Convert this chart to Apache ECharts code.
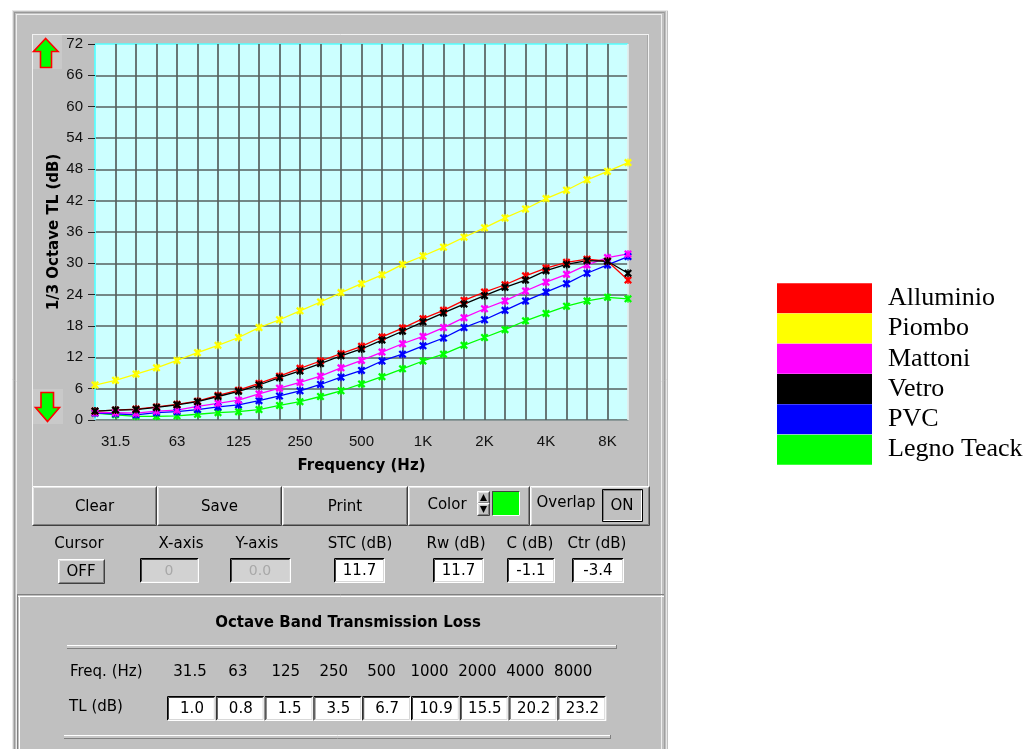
<!DOCTYPE html>
<html>
<head>
<meta charset="utf-8">
<script src="https://cdn.jsdelivr.net/npm/echarts@6/dist/echarts.min.js"></script>
<style>
  html, body { margin: 0; padding: 0; background: #ffffff; }
  #chart { width: 1031px; height: 749px; }
</style>
</head>
<body>
<div id="chart"></div>
<script>
// 1/3 octave band centre frequencies (x categories)
const bands = ['25','31.5','40','50','63','80','100','125','160','200','250','315','400','500',
               '630','800','1K','1.25K','1.6K','2K','2.5K','3.15K','4K','5K','6.3K','8K','10K'];
// bands that carry a tick label
const bandTickLabels = ['31.5','63','125','250','500','1K','2K','4K','8K'];

// transmission loss per 1/3 octave band (dB)
const alluminio = [1.7, 1.9, 2.1, 2.5, 3.0, 3.6, 4.7, 5.7, 7.0, 8.4, 9.9, 11.3, 12.7, 14.1,
                   15.9, 17.6, 19.4, 21.0, 22.9, 24.5, 25.9, 27.6, 29.1, 30.2, 30.8, 30.4, 26.8];
const piombo    = [6.7, 7.6, 8.8, 10.0, 11.4, 12.9, 14.3, 15.8, 17.7, 19.2, 20.9, 22.6, 24.4, 26.1,
                   27.8, 29.8, 31.4, 33.1, 35.0, 36.8, 38.7, 40.4, 42.4, 44.0, 46.0, 47.6, 49.3];
const mattoni   = [1.4, 1.4, 1.3, 1.7, 1.9, 2.6, 3.2, 3.8, 5.0, 6.1, 7.2, 8.4, 10.0, 11.4,
                   13.0, 14.6, 16.0, 17.7, 19.6, 21.3, 22.8, 24.7, 26.4, 27.9, 29.7, 31.1, 31.8];
const vetro     = [1.7, 1.9, 2.0, 2.4, 2.9, 3.5, 4.5, 5.5, 6.7, 8.1, 9.4, 10.8, 12.3, 13.6,
                   15.3, 17.0, 18.8, 20.5, 22.2, 23.8, 25.4, 26.8, 28.6, 29.8, 30.5, 30.4, 28.1];
const pvc       = [1.3, 1.2, 1.0, 1.4, 1.6, 2.0, 2.5, 2.9, 3.7, 4.6, 5.6, 6.8, 8.2, 9.5,
                   11.3, 12.6, 14.2, 15.7, 17.7, 19.2, 21.0, 22.8, 24.5, 26.1, 28.1, 29.7, 31.3];
const legnoTeack= [1.3, 1.0, 0.7, 0.7, 0.8, 1.1, 1.4, 1.6, 2.0, 2.8, 3.5, 4.5, 5.6, 6.9,
                   8.3, 9.8, 11.3, 12.6, 14.3, 15.8, 17.3, 19.0, 20.4, 21.8, 22.8, 23.5, 23.2];

// legend order
const materialNames = ['Alluminio', 'Piombo', 'Mattoni', 'Vetro', 'PVC', 'Legno Teack'];

// octave band summary of the selected curve
const octaveFreqs = ['31.5','63','125','250','500','1000','2000','4000','8000'];
const octaveTL    = ['1.0','0.8','1.5','3.5','6.7','10.9','15.5','20.2','23.2'];

// single number ratings
const ratingLabels = ['STC (dB)', 'Rw (dB)', 'C (dB)', 'Ctr (dB)'];
const ratingValues = ['11.7', '11.7', '-1.1', '-3.4'];

// asterisk marker
const starMark = 'path://M0,2L2,0L5,3L8,0L10,2L7,5L10,8L8,10L5,7L2,10L0,8L3,5Z' +
                 'M4.2,0L5.8,0L5.8,10L4.2,10Z';

function curve(name, data, color) {
  return {
    name: name, type: 'line', data: data,
    symbol: starMark, symbolSize: 8,
    itemStyle: { color: color },
    lineStyle: { color: color, width: 1.3 },
    emphasis: { disabled: true }
  };
}

// ---------- panel widgets (window chrome) ----------
const UI = 'DejaVu Sans';
const G = [];
function rect(x, y, w, h, fill, z) {
  G.push({ type: 'rect', z: z == null ? 0 : z, silent: true,
           shape: { x: x, y: y, width: w, height: h }, style: { fill: fill } });
}
function line(x1, y1, x2, y2, c, w, z) {
  G.push({ type: 'line', z: z == null ? 2 : z, silent: true,
           shape: { x1: x1, y1: y1, x2: x2, y2: y2 }, style: { stroke: c, lineWidth: w || 1 } });
}
function text(t, x, y, opt) {
  G.push({ type: 'text', z: 5, silent: true, x: x, y: y,
           style: Object.assign({ text: t, fill: '#000', fontFamily: UI, fontSize: 14,
                                  align: 'center', verticalAlign: 'middle' }, opt || {}) });
}
function bevel(x, y, w, h, tl, br) {
  line(x + .5, y + .5, x + w - .5, y + .5, tl);
  line(x + .5, y + .5, x + .5, y + h - .5, tl);
  line(x + .5, y + h - .5, x + w - .5, y + h - .5, br);
  line(x + w - .5, y + .5, x + w - .5, y + h - .5, br);
}
function raised(x, y, w, h) {
  rect(x, y, w, h, '#c0c0c0', 1);
  bevel(x, y, w, h, '#ffffff', '#404040');
  bevel(x + 1, y + 1, w - 2, h - 2, '#e4e4e4', '#808080');
}
function field(x, y, w, h, fill) {
  rect(x, y, w, h, fill, 1);
  bevel(x, y, w, h, '#000000', '#ffffff');
  bevel(x + 1, y + 1, w - 2, h - 2, '#404040', '#d8d8d8');
}
function groove(x, y, w) {
  rect(x, y, w, 4, '#c8c8c8', 1);
  line(x, y + .5, x + w, y + .5, '#ffffff');
  line(x, y + 3.5, x + w, y + 3.5, '#808080');
  line(x + w - .5, y, x + w - .5, y + 4, '#808080');
}

// window background
rect(12, 10, 656, 739, '#c0c0c0', -100);
line(12, 10.5, 668, 10.5, '#e8e8e8');
line(12.5, 10, 12.5, 749, '#e8e8e8');
line(14.5, 12, 14.5, 749, '#989898');
line(14, 12.5, 664, 12.5, '#989898');
line(16.5, 14, 16.5, 749, '#eeeeee');
line(16, 14.5, 662, 14.5, '#eeeeee');
line(661.5, 14, 661.5, 749, '#eeeeee');
line(664.5, 12, 664.5, 749, '#a0a0a0');
line(666.5, 10, 666.5, 749, '#e8e8e8');
// chart sub-panel outline
line(32, 34.5, 649, 34.5, '#f2f2f2');
line(32.5, 34, 32.5, 486, '#f2f2f2');
line(648.5, 34, 648.5, 486, '#f2f2f2');
line(647.5, 35, 647.5, 486, '#a8a8a8');

// scale arrows
rect(32, 35, 30, 34, '#c9c9c9', 1);
G.push({ type: 'polygon', z: 3, silent: true,
  shape: { points: [[45.7, 38.5], [58, 51.5], [51.5, 51.5], [51.5, 67.5], [40.5, 67.5], [40.5, 51.5], [33.5, 51.5]] },
  style: { fill: '#00ff00', stroke: '#ff0000', lineWidth: 1.6 } });
rect(33, 389, 30, 35, '#c9c9c9', 1);
G.push({ type: 'polygon', z: 3, silent: true,
  shape: { points: [[41, 392.5], [53.5, 392.5], [53.5, 407.5], [59.5, 407.5], [47.5, 421.5], [35.5, 407.5], [41, 407.5]] },
  style: { fill: '#00ff00', stroke: '#ff0000', lineWidth: 1.6 } });

// command buttons
const buttons = [['Clear', 32, 157], ['Save', 157, 282], ['Print', 282, 408], ['', 408, 530], ['', 530, 650]];
buttons.forEach(function (b) { raised(b[1], 486, b[2] - b[1], 40); if (b[0]) text(b[0], (b[1] + b[2]) / 2, 507, { fontSize: 15 }); });
text('Color', 447, 505, { fontSize: 15 });
raised(477, 491, 13, 13);
raised(477, 503, 13, 13);
G.push({ type: 'polygon', z: 4, silent: true, shape: { points: [[480, 501], [487, 501], [483.5, 494]] }, style: { fill: '#000' } });
G.push({ type: 'polygon', z: 4, silent: true, shape: { points: [[480, 506], [487, 506], [483.5, 513]] }, style: { fill: '#000' } });
rect(492, 491, 28, 25, '#00ff00', 1);
bevel(492, 491, 28, 25, '#404040', '#ffffff');
text('Overlap', 566, 503, { fontSize: 15 });
rect(602, 489, 41, 33, '#c0c0c0', 1);
bevel(602, 489, 41, 33, '#000000', '#000000');
bevel(603, 490, 39, 31, '#808080', '#ffffff');
text('ON', 622, 506, { fontSize: 15 });

// cursor / readout row
text('Cursor', 79, 544, { fontSize: 15 });
raised(58, 559, 47, 25);
text('OFF', 81, 572, { fontSize: 15 });
text('X-axis', 181, 544, { fontSize: 15 });
field(140, 558, 59, 25, '#d2d2d2');
text('0', 169, 571, { fontSize: 14, fill: '#a8a8a8' });
text('Y-axis', 257, 544, { fontSize: 15 });
field(230, 558, 61, 25, '#d2d2d2');
text('0.0', 260, 571, { fontSize: 14, fill: '#a8a8a8' });
const ratingLabelX = [360, 456, 530, 597];
const ratingBox = [[334, 51], [433, 51], [507, 48], [572, 52]];
ratingLabels.forEach(function (t, i) {
  text(t, ratingLabelX[i], 544, { fontSize: 15 });
  field(ratingBox[i][0], 558, ratingBox[i][1], 25, '#ffffff');
  text(ratingValues[i], ratingBox[i][0] + ratingBox[i][1] / 2, 571, { fontSize: 15 });
});

// octave band section
line(17, 594.5, 664, 594.5, '#808080');
line(17, 596.5, 664, 596.5, '#ffffff');
line(17.5, 595, 17.5, 749, '#808080');
line(19.5, 597, 19.5, 749, '#ffffff');
text('Octave Band Transmission Loss', 348, 623, { fontSize: 15, fontWeight: 'bold' });
groove(67, 645, 550);
text('Freq. (Hz)', 70, 672, { fontSize: 15, align: 'left' });
text('TL (dB)', 96, 707, { fontSize: 15 });
octaveFreqs.forEach(function (f, i) {
  text(f, 190 + i * 47.9, 672, { fontSize: 15 });
  const bx = 167 + i * 48.8;
  field(bx, 696, 48.8, 25, '#ffffff');
  text(octaveTL[i], bx + 25, 709, { fontSize: 15 });
});
groove(64, 735, 547);

// grid line colours: left and top borders are cyan
const xSplitColors = bands.map(function (b, i) { return i === 0 ? '#55ffff' : (i === bands.length - 1 ? '#e2eeee' : '#56605f'); });
const ySplitColors = [];
for (let v = 0; v <= 72; v += 6) ySplitColors.push(v === 72 ? '#55ffff' : '#56605f');

const chart = echarts.init(document.getElementById('chart'), null, { renderer: 'canvas' });
chart.setOption({
  animation: false,
  backgroundColor: '#ffffff',
  graphic: { elements: G },
  grid: { left: 95, top: 44, width: 533, height: 376, show: true,
          backgroundColor: '#ccffff', borderWidth: 0 },
  xAxis: {
    type: 'category', data: bands, boundaryGap: false,
    name: 'Frequency (Hz)', nameLocation: 'middle', nameGap: 39,
    nameTextStyle: { fontFamily: UI, fontWeight: 'bold', fontSize: 15, color: '#000' },
    axisLine: { show: true, lineStyle: { color: '#8c9898', width: 1 } },
    axisTick: { show: false },
    axisLabel: { interval: function (i, v) { return bandTickLabels.indexOf(v) >= 0; },
                 fontFamily: 'Liberation Sans', fontSize: 15, color: '#111', margin: 14 },
    splitLine: { show: true, interval: 0, lineStyle: { color: xSplitColors, width: 1.7 } }
  },
  yAxis: {
    type: 'value', min: 0, max: 72, interval: 6,
    name: '1/3 Octave TL (dB)', nameLocation: 'middle', nameGap: 33,
    nameMoveOverlap: false,
    nameTextStyle: { fontFamily: UI, fontWeight: 'bold', fontSize: 15, color: '#000' },
    axisLine: { show: false },
    axisTick: { show: true, length: 7, lineStyle: { color: '#222', width: 1 } },
    axisLabel: { fontFamily: 'Liberation Sans', fontSize: 15, color: '#111', margin: 12 },
    splitLine: { show: true, lineStyle: { color: ySplitColors, width: 1.7 } }
  },
  legend: {
    data: materialNames, orient: 'vertical', left: 777, top: 283,
    itemWidth: 95, itemHeight: 30, itemGap: 0, icon: 'rect', padding: 0,
    selectedMode: false,
    itemStyle: { borderWidth: 0 },
    textStyle: { fontFamily: 'Liberation Serif', fontSize: 26, color: '#000',
                 lineHeight: 30.3, padding: [0, 0, 0, 11] }
  },
  series: [
    curve('Piombo', piombo, '#ffff00'),
    curve('Legno Teack', legnoTeack, '#00ff00'),
    curve('PVC', pvc, '#0000ff'),
    curve('Mattoni', mattoni, '#ff00ff'),
    curve('Alluminio', alluminio, '#ff0000'),
    curve('Vetro', vetro, '#000000')
  ]
});
</script>
</body>
</html>
